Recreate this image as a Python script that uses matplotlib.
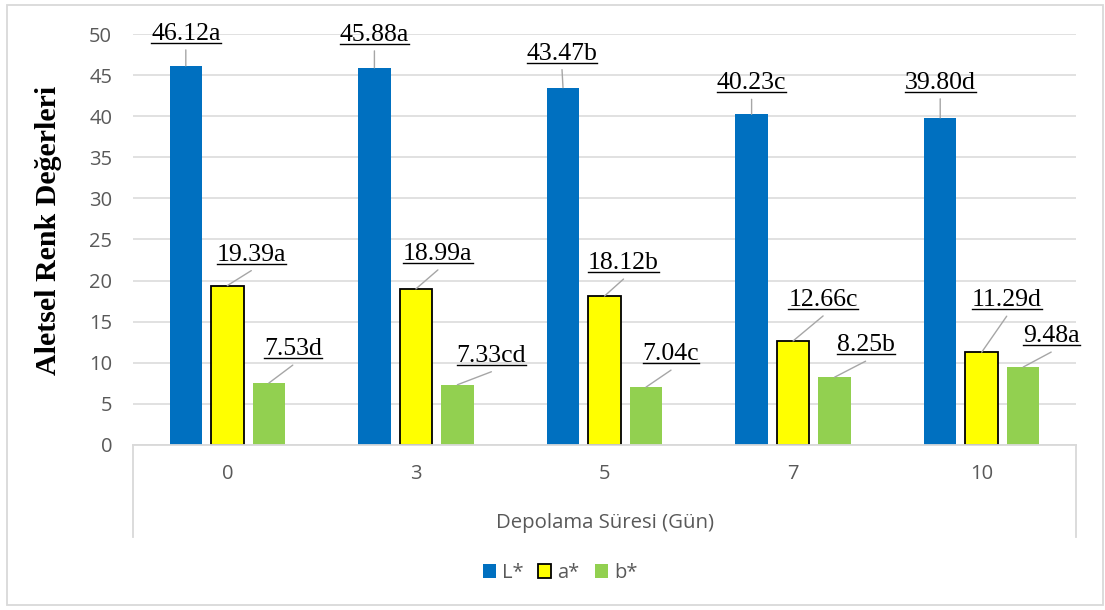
import matplotlib
matplotlib.use("Agg")
import matplotlib.pyplot as plt
from matplotlib.patches import Patch, Rectangle
from matplotlib.lines import Line2D
import numpy as np

# ---- data ----
days = ["0", "3", "5", "7", "10"]
series_names = ["L*", "a*", "b*"]
L_vals = [46.12, 45.88, 43.47, 40.23, 39.80]
a_vals = [19.39, 18.99, 18.12, 12.66, 11.29]
b_vals = [7.53, 7.33, 7.04, 8.25, 9.48]
L_letters = ["a", "a", "b", "c", "d"]
a_letters = ["a", "a", "b", "c", "d"]
b_letters = ["d", "cd", "c", "b", "a"]

# ---- styling ----
colors = ["#0070C0", "#FFFF00", "#92D050"]
edges = ["none", "black", "none"]
edge_lw = [0, 1.3, 0]
# label text centre, in pixels from the top-centre of its bar
label_offsets = [
    [(0, 33), (0, 34), (-1, 35), (0, 32), (0, 36)],
    [(24, 32), (22, 36), (19, 34), (30, 42), (25, 53)],
    [(24, 35), (34, 30), (25, 34), (31, 33), (28, 32)],
]
LEADER_GAP = 17   # leader ends this many pixels below label centre
BASE_DROP = 7     # baseline sits this far below the label centre
ULINE_DROP = 3    # underline sits this far below the baseline

W, H, DPI = 1105, 610, 100
fig = plt.figure(figsize=(W / DPI, H / DPI), dpi=DPI)
ax = fig.add_axes([133 / W, 1 - 445 / H, (1076 - 133) / W, (445 - 34) / H])

x = np.arange(len(days))
bar_w = 0.172
step = 0.22
all_vals = [L_vals, a_vals, b_vals]
all_letters = [L_letters, a_letters, b_letters]

for k, (vals, name) in enumerate(zip(all_vals, series_names)):
    ax.bar(x + (k - 1) * step, vals, width=bar_w, color=colors[k],
           edgecolor=edges[k], linewidth=edge_lw[k], label=name, zorder=2)

ax.set_xlim(-0.5, len(days) - 0.5)
ax.set_ylim(0, 50)
ax.set_yticks(np.arange(0, 51, 5))
ax.set_xticks(x)
ax.set_xticklabels(days)

tick_font = "Open Sans"
grey = "#595959"
ax.tick_params(axis="y", length=0, pad=15, labelsize=14.5, labelcolor=grey)
ax.tick_params(axis="x", length=0, pad=14, labelsize=14.5, labelcolor=grey)
for lab in ax.get_xticklabels() + ax.get_yticklabels():
    lab.set_fontfamily(tick_font)

ax.yaxis.grid(True, color="#d9d9d9", linewidth=1.1, zorder=0)
ax.set_axisbelow(True)
for s in ["top", "right", "left"]:
    ax.spines[s].set_visible(False)
ax.spines["bottom"].set_color("#d9d9d9")
ax.spines["bottom"].set_linewidth(1.3)

# category box below the axis
box_depth = (537 - 445) / (445 - 34)
for xx in (0, 1):
    ax.add_line(Line2D([xx, xx], [0, -box_depth], transform=ax.transAxes,
                       color="#d9d9d9", linewidth=1.3, clip_on=False))

fig.text(604.5 / W, 1 - 523 / H, "Depolama Süresi (Gün)", ha="center",
         va="center", fontsize=14.7, color=grey, fontfamily=tick_font)
fig.text(49 / W, 1 - 230 / H, "Aletsel Renk Değerleri", rotation=90,
         ha="center", va="center", fontsize=21.5, fontweight="bold",
         fontfamily="Liberation Serif", color="black")

# value labels with leader lines
labels = []
for k, (vals, letters) in enumerate(zip(all_vals, all_letters)):
    for i, (v, let) in enumerate(zip(vals, letters)):
        xb = x[i] + (k - 1) * step
        dx, dy = label_offsets[k][i]
        ax.annotate("", xy=(xb, v), xytext=(dx, dy - LEADER_GAP),
                    textcoords="offset pixels",
                    arrowprops=dict(arrowstyle="-", color="#a6a6a6", lw=1.0,
                                    shrinkA=0, shrinkB=0), zorder=3)
        t = ax.annotate(f"{v:.2f}{let}", xy=(xb, v), xytext=(dx, dy - BASE_DROP),
                        textcoords="offset pixels", ha="center", va="baseline",
                        fontsize=18.5, fontfamily="Liberation Serif",
                        color="black", zorder=4)
        labels.append((t, xb, v, dy))

legend_handles = [Patch(facecolor=colors[k], edgecolor=("black" if k == 1 else colors[k]),
                        linewidth=(1.3 if k == 1 else 0)) for k in range(3)]
leg = fig.legend(legend_handles, series_names, loc="center",
                 bbox_to_anchor=(560 / W, 1 - 573 / H), ncol=3, frameon=False,
                 prop={"family": tick_font, "size": 14.5},
                 handlelength=0.65, handleheight=0.65, handletextpad=0.3,
                 columnspacing=0.75)
for t in leg.get_texts():
    t.set_color(grey)

# outer chart frame
fig.patches.append(Rectangle((7 / W, 1 - 605 / H), (1103 - 7) / W, (605 - 5) / H,
                             transform=fig.transFigure, fill=False,
                             edgecolor="#d9d9d9", linewidth=1.3))

# underline the value labels
fig.canvas.draw()
renderer = fig.canvas.get_renderer()
inv = fig.transFigure.inverted()
for t, xb, v, dy in labels:
    bb = t.get_window_extent(renderer)
    base_y = ax.transData.transform((xb, v))[1] + dy - BASE_DROP
    yl = base_y - ULINE_DROP
    p0 = inv.transform((bb.x0, yl))
    p1 = inv.transform((bb.x1, yl))
    fig.lines.append(Line2D([p0[0], p1[0]], [p0[1], p1[1]],
                            transform=fig.transFigure, color="black",
                            linewidth=1.0))

fig.savefig("out.png", dpi=DPI)
